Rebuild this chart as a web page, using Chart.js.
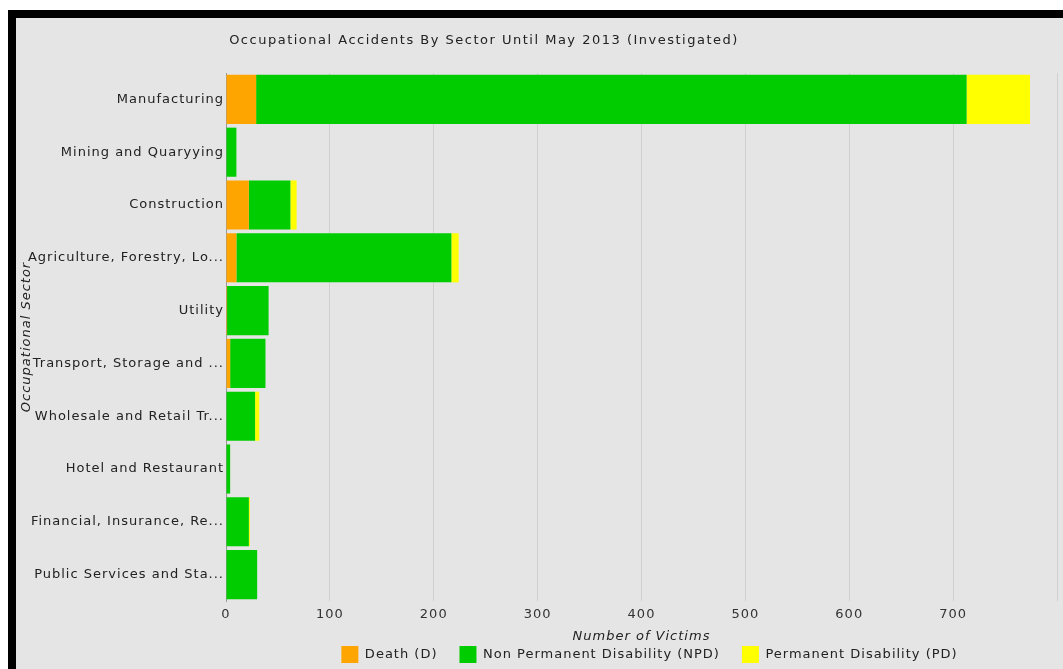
<!DOCTYPE html>
<html>
<head>
<meta charset="utf-8">
<script src="https://cdn.jsdelivr.net/npm/chart.js@4.4.0/dist/chart.umd.min.js"></script>
<style>
  body { margin: 0; background: #fff; overflow: hidden; }
  #frame {
    position: absolute; left: 8px; top: 10px;
    width: 1047px; height: 651px;
    border-left: 8px solid #000; border-top: 8px solid #000;
    background: #e5e5e5;
  }
  #frame canvas { display: block; }
</style>
</head>
<body>
<div id="frame"><canvas id="barChart" width="1047" height="651"></canvas></div>
<script>
var sectors = [
  "Manufacturing",
  "Mining and Quaryying",
  "Construction",
  "Agriculture, Forestry, Lo...",
  "Utility",
  "Transport, Storage and ...",
  "Wholesale and Retail Tr...",
  "Hotel and Restaurant",
  "Financial, Insurance, Re...",
  "Public Services and Sta..."
];
var deaths = [29, 0, 22, 10, 1, 4, 0, 0, 0, 0];
var nonPermanent = [684, 10, 40, 207, 40, 34, 28, 4, 22, 30];
var permanent = [61, 0, 6, 7, 0, 0, 4, 0, 1, 0];
var xMax = 800;
var xStep = 100;

var chartTitle = "Occupational Accidents By Sector Until May 2013 (Investigated)";
var fontName = "'DejaVu Sans', sans-serif";

// the original font is spaced out a bit, so widen all canvas text
var spacingPlugin = {
  id: "spacing",
  beforeUpdate: function (chart) { chart.ctx.letterSpacing = "1px"; },
  beforeDraw: function (chart) { chart.ctx.letterSpacing = "1px"; }
};

// legend: fixed height and nudged right, wide gaps between items
var legendPlugin = {
  id: "legendTweak",
  beforeLayout: function (chart) {
    var lg = chart.legend;
    if (!lg || lg._tweaked) return;
    var fit = lg.fit, draw = lg.draw;
    lg.fit = function () { fit.call(this); this.height = 45; };
    lg.draw = function () {
      this.ctx.save();
      this.ctx.translate(8, 0);
      draw.call(this);
      this.ctx.restore();
    };
    lg._tweaked = true;
  }
};

// title is drawn by hand so it can sit left of centre like the original
var titlePlugin = {
  id: "ownTitle",
  afterDraw: function (chart) {
    var c = chart.ctx;
    c.save();
    c.letterSpacing = "1.5px";
    c.font = "13px " + fontName;
    c.fillStyle = "#222";
    c.textAlign = "center";
    c.textBaseline = "middle";
    c.fillText(chartTitle, 468, 23);
    c.restore();
  }
};

var ctx = document.getElementById("barChart").getContext("2d");
var myChart = new Chart(ctx, {
  type: "bar",
  data: {
    labels: sectors,
    datasets: [
      { label: "Death (D)", data: deaths, backgroundColor: "#ffa500" },
      { label: "Non Permanent Disability (NPD)", data: nonPermanent, backgroundColor: "#00cc00" },
      { label: "Permanent Disability (PD)", data: permanent, backgroundColor: "#ffff00" }
    ]
  },
  options: {
    indexAxis: "y",
    responsive: false,
    animation: false,
    barPercentage: 0.93,
    categoryPercentage: 1,
    layout: { padding: { top: 55, right: 2, left: 0, bottom: 0 } },
    scales: {
      x: {
        stacked: true,
        min: 0,
        max: xMax,
        ticks: {
          stepSize: xStep,
          color: "#333",
          font: { family: fontName, size: 13 },
          padding: 6,
          maxRotation: 0,
          callback: function (v) { return v >= xMax ? "" : v; }
        },
        grid: { color: "#d0d0d0", drawTicks: false },
        border: { display: false },
        title: {
          display: true,
          text: "Number of Victims",
          color: "#222",
          font: { family: fontName, size: 13, style: "italic", lineHeight: 1 },
          padding: { top: 0, bottom: -19 }
        },
        afterFit: function (scale) { scale.height = 23; }
      },
      y: {
        stacked: true,
        ticks: {
          color: "#222",
          font: { family: fontName, size: 13 },
          padding: 2
        },
        grid: { display: false, drawTicks: false },
        border: { display: true, color: "#999" },
        title: {
          display: true,
          text: "Occupational Sector",
          color: "#222",
          font: { family: fontName, size: 13, style: "italic" },
          padding: 3
        },
        afterFit: function (scale) { scale.width = 210; }
      }
    },
    plugins: {
      title: { display: false },
      tooltip: { enabled: false },
      legend: {
        position: "bottom",
        fullSize: false,
        labels: {
          color: "#222",
          font: { family: fontName, size: 13 },
          boxWidth: 17,
          boxHeight: 17,
          padding: 22
        }
      }
    }
  },
  plugins: [spacingPlugin, legendPlugin, titlePlugin]
});
</script>
</body>
</html>
